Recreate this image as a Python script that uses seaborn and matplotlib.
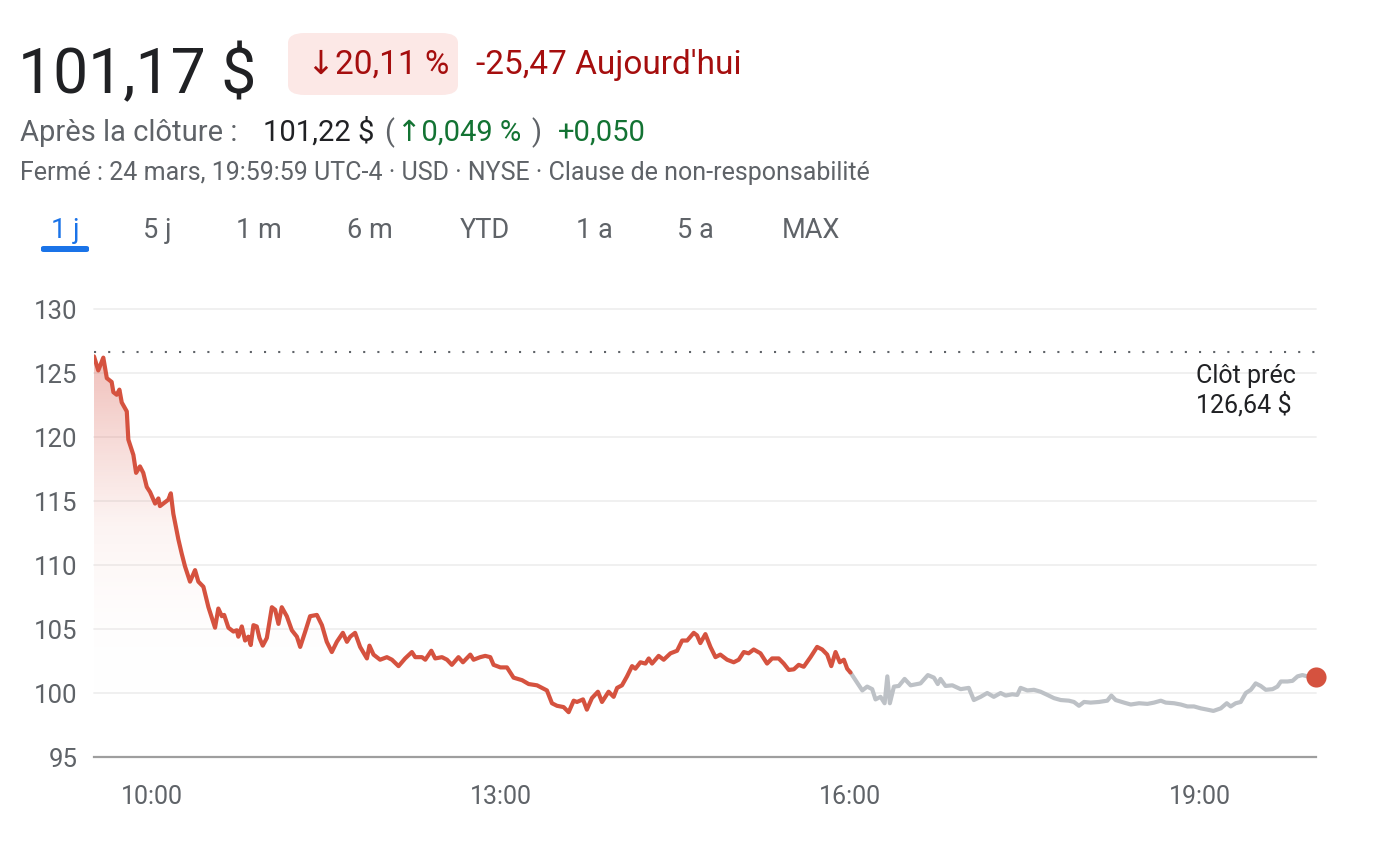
import numpy as np
import pandas as pd
import matplotlib
matplotlib.use("Agg")
import matplotlib.pyplot as plt
from matplotlib.patches import FancyBboxPatch
from matplotlib.colors import LinearSegmentedColormap
import seaborn as sns

W, H = 1380, 846

# ── data: minutes after 09:30 and price in $ ─────────────────────
SESSION_MIN = [0, 2.2, 4.8, 6.6, 9.1, 10.0, 11.7, 13.1, 14.3, 16.9, 17.7, 20.3, 21.7,
               23.7, 25.4, 27.2, 28.9, 31.5, 33.2, 34.0, 36.6, 38.3, 39.6, 40.9, 43.5,
               45.2, 46.9, 49.5, 52.1, 53.8, 56.4, 59.0, 62.4, 64.1, 65.9, 67.1, 69.3,
               71.9, 73.6, 74.4, 76.2, 77.9, 79.6, 80.8, 82.2, 83.9, 85.3, 87.0, 89.1,
               91.7, 93.4, 95.1, 96.8, 99.4, 102.0, 104.6, 106.3, 108.9, 111.4, 114.9,
               117.5, 120.0, 122.6, 125.2, 128.3, 130.4, 132.1, 134.6, 137.2, 140.7,
               142.0, 144.1, 147.5, 151.0, 153.6, 157.0, 160.4, 163.9, 165.6, 169.1,
               170.8, 173.9, 175.9, 179.4, 182.0, 184.5, 187.9, 190.2, 194.0, 195.7,
               199.1, 201.7, 204.3, 206.0, 209.5, 212.9, 216.3, 220.7, 224.1, 228.4,
               233.5, 236.1, 238.7, 242.1, 244.7, 247.3, 249.0, 252.1, 254.1, 256.7,
               259.8, 261.9, 265.3, 267.9, 269.7, 272.2, 274.8, 277.4, 279.1, 281.7,
               284.3, 286.0, 287.7, 291.1, 293.7, 297.2, 300.6, 303.2, 305.8, 309.2,
               310.9, 312.6, 315.2, 317.8, 320.4, 322.9, 326.4, 329.8, 332.4, 335.0,
               337.5, 340.1, 343.6, 347.0, 349.6, 353.0, 355.6, 358.2, 360.8, 363.3,
               365.9, 369.4, 372.8, 375.4, 378.0, 380.1, 382.3, 384.5, 386.6, 388.3, 390.0]
SESSION_PX = [126.3, 125.2, 126.2, 124.6, 124.3, 123.5, 123.3, 123.7, 122.7, 122.0, 119.8,
              118.6, 117.2, 117.7, 117.2, 116.1, 115.7, 114.8, 115.2, 114.6, 114.9, 115.1,
              115.6, 114.0, 112.0, 110.9, 109.9, 108.7, 109.6, 108.7, 108.3, 106.7, 105.1,
              106.6, 106.0, 106.1, 105.1, 104.8, 104.9, 104.4, 105.2, 104.1, 104.4, 103.75,
              105.3, 105.2, 104.3, 103.7, 104.3, 106.7, 106.5, 105.4, 106.7, 106.0, 104.9,
              104.4, 103.6, 104.8, 106.0, 106.1, 105.3, 104.0, 103.2, 104.0, 104.7, 104.0,
              104.4, 104.7, 103.6, 102.7, 103.7, 103.0, 102.6, 102.8, 102.6, 102.1, 102.7,
              103.2, 102.8, 102.8, 102.6, 103.3, 102.7, 102.8, 102.6, 102.2, 102.8, 102.4,
              103.0, 102.6, 102.8, 102.9, 102.8, 102.2, 102.0, 102.0, 101.2, 101.0, 100.7,
              100.6, 100.2, 99.2, 99.0, 98.9, 98.5, 99.4, 99.3, 99.5, 98.7, 99.6, 100.1,
              99.3, 100.1, 99.7, 100.4, 100.6, 101.3, 102.1, 101.9, 102.4, 102.3, 102.7,
              102.3, 102.9, 102.6, 103.1, 103.3, 104.1, 104.1, 104.7, 104.5, 103.9, 104.6,
              103.6, 102.8, 103.0, 102.6, 102.4, 102.6, 103.2, 103.1, 103.4, 103.1, 102.3,
              102.7, 102.7, 102.3, 101.8, 101.85, 102.2, 102.05, 102.8, 103.6, 103.4, 103.0,
              102.1, 103.2, 102.4, 102.6, 101.9, 101.6]

AFTER_MIN = [390.0, 392.6, 396.1, 398.6, 401.2, 402.9, 405.5, 407.6, 409.0, 410.3, 412.4,
             414.9, 417.9, 421.0, 426.1, 429.9, 433.0, 435.0, 436.4, 439.0, 442.5, 446.8,
             451.0, 453.6, 457.1, 460.5, 463.9, 467.4, 470.0, 473.4, 476.0, 477.7, 481.2,
             484.6, 488.0, 491.5, 494.9, 498.4, 502.6, 505.2, 507.8, 510.4, 513.8, 518.1,
             522.4, 524.5, 526.7, 531.0, 534.5, 538.8, 543.1, 546.5, 550.0, 552.5, 556.8,
             560.3, 563.7, 567.1, 570.6, 574.0, 577.1, 580.9, 584.0, 586.0, 588.6, 591.2,
             593.8, 596.4, 598.9, 601.5, 604.1, 607.6, 610.1, 611.9, 615.3, 617.9, 620.5,
             623.0, 625.6, 630.0]
AFTER_PX = [101.6, 101.0, 100.2, 100.5, 100.3, 99.5, 99.7, 99.2, 101.3, 99.2, 100.5,
            100.55, 101.1, 100.6, 100.75, 101.4, 101.2, 100.7, 101.1, 100.55, 100.6, 100.3,
            100.4, 99.45, 99.7, 100.0, 99.7, 100.0, 99.8, 99.9, 99.85, 100.4, 100.2,
            100.25, 100.1, 99.85, 99.6, 99.45, 99.4, 99.3, 99.0, 99.3, 99.25, 99.3,
            99.4, 99.8, 99.45, 99.25, 99.1, 99.2, 99.15, 99.25, 99.4, 99.25, 99.2,
            99.1, 98.95, 98.95, 98.8, 98.7, 98.6, 98.8, 99.2, 98.95, 99.2, 99.3,
            100.0, 100.25, 100.75, 100.55, 100.25, 100.3, 100.5, 100.9, 100.9, 100.95, 101.3,
            101.4, 101.3, 101.22]

PREV_CLOSE = 126.64
Y_TICKS = [95, 100, 105, 110, 115, 120, 125, 130]
X_TICKS = [10, 13, 16, 19]
X_LABELS = ["10:00", "13:00", "16:00", "19:00"]
TABS = ["1 j", "5 j", "1 m", "6 m", "YTD", "1 a", "5 a", "MAX"]

RED = "#d5523f"
GREY_LINE = "#bdc1c6"
DARK = "#202124"
MUTED = "#5f6368"
DOWN = "#a50e0e"
UP = "#137333"
BLUE = "#1a73e8"
FONT = ["Roboto", "DejaVu Sans"]


def fx(px):
    return px / W


def fy(py):
    return 1 - py / H


sns.set_style("white")
plt.rcParams["font.family"] = FONT

session = pd.DataFrame({"hour": 9.5 + np.array(SESSION_MIN) / 60, "price": SESSION_PX})
after = pd.DataFrame({"hour": 9.5 + np.array(AFTER_MIN) / 60, "price": AFTER_PX})

fig = plt.figure(figsize=(W / 100, H / 100), dpi=100)
ax = fig.add_axes([fx(94), fy(757), fx(1316) - fx(94), fy(309) - fy(757)])

# gradient under the regular session, clipped to the area below the line
fill = ax.fill_between(session["hour"], session["price"], 95, facecolor="none", edgecolor="none")
grad_cmap = LinearSegmentedColormap.from_list(
    "fade", [(1, 1, 1, 0), (0.87, 0.42, 0.36, 0.08), (0.85, 0.35, 0.30, 0.40)])
grad = np.linspace(0, 1, 256).reshape(-1, 1)
img = ax.imshow(grad, extent=[9.5, 16.0, 99.5, 127], origin="lower", aspect="auto",
                cmap=grad_cmap, zorder=1)
img.set_clip_path(fill.get_paths()[0], transform=ax.transData)

sns.lineplot(data=after, x="hour", y="price", ax=ax, color=GREY_LINE, lw=3.0,
             estimator=None, sort=False, zorder=3)
sns.lineplot(data=session, x="hour", y="price", ax=ax, color=RED, lw=3.0,
             estimator=None, sort=False, zorder=4)
ax.scatter([after["hour"].iloc[-1]], [after["price"].iloc[-1]], s=210, color=RED,
           zorder=6, clip_on=False, linewidths=0)

ax.axhline(PREV_CLOSE, color=MUTED, lw=1.5, ls=(0, (1, 5.8)), zorder=2)
ax.text(0.9018, 124.22, "Clôt préc", transform=ax.get_yaxis_transform(),
        fontsize=18, color=DARK, va="baseline", ha="left")
ax.text(0.9018, 121.88, "126,64 $", transform=ax.get_yaxis_transform(),
        fontsize=18, color=DARK, va="baseline", ha="left")

ax.set_xlim(9.5, 20.0)
ax.set_ylim(95, 130)
ax.set_yticks(Y_TICKS)
ax.set_yticklabels([str(v) for v in Y_TICKS])
ax.set_xticks(X_TICKS)
ax.set_xticklabels(X_LABELS)
ax.set_xlabel("")
ax.set_ylabel("")
for v in Y_TICKS[1:]:
    ax.axhline(v, color="#efefef", lw=1.3, zorder=0, clip_on=False)
ax.tick_params(axis="y", length=0, pad=12, labelsize=18.5, labelcolor=MUTED)
ax.tick_params(axis="x", length=8, width=2.6, color="#6b6b6b", pad=12,
               labelsize=18, labelcolor=MUTED)
for s in ["top", "right", "left"]:
    ax.spines[s].set_visible(False)
ax.spines["bottom"].set_color("#9e9e9e")
ax.spines["bottom"].set_linewidth(1.6)

# ── header ─────────────────────────────────────────────────────
fig.text(fx(18), fy(93), "101,17 $", fontsize=45, color=DARK, va="baseline")
badge = FancyBboxPatch((fx(288), fy(95)), fx(458) - fx(288), fy(33) - fy(95),
                       boxstyle="round,pad=0,rounding_size=0.012",
                       transform=fig.transFigure, facecolor="#fce8e6", edgecolor="none")
fig.patches.append(badge)
fig.text(fx(307), fy(74), "↓20,11 %", fontsize=24, color=DOWN, va="baseline")
fig.text(fx(476), fy(74), "-25,47 Aujourd'hui", fontsize=24, color=DOWN, va="baseline")

fig.text(fx(20), fy(141), "Après la clôture :", fontsize=21, color=MUTED, va="baseline")
fig.text(fx(263), fy(141), "101,22 $", fontsize=21, color=DARK, va="baseline")
fig.text(fx(384), fy(141), "(", fontsize=21, color=MUTED, va="baseline")
fig.text(fx(397), fy(141), "↑0,049 %", fontsize=21, color=UP, va="baseline")
fig.text(fx(531), fy(141), ")", fontsize=21, color=MUTED, va="baseline")
fig.text(fx(558), fy(141), "+0,050", fontsize=21, color=UP, va="baseline")

fig.text(fx(20), fy(180),
         "Fermé : 24 mars, 19:59:59 UTC-4 · USD · NYSE · Clause de non-responsabilité",
         fontsize=18, color=MUTED, va="baseline")

TAB_X = [65, 157, 259, 370, 485, 594, 695, 811]
for label, x in zip(TABS, TAB_X):
    fig.text(fx(x), fy(238), label, fontsize=19.5, ha="center", va="baseline",
             color=BLUE if label == "1 j" else MUTED)
underline = FancyBboxPatch((fx(41), fy(252)), fx(89) - fx(41), fy(246) - fy(252),
                           boxstyle="round,pad=0,rounding_size=0.002",
                           transform=fig.transFigure, facecolor=BLUE, edgecolor="none")
fig.patches.append(underline)

fig.savefig("out.png", dpi=100, facecolor="white")
